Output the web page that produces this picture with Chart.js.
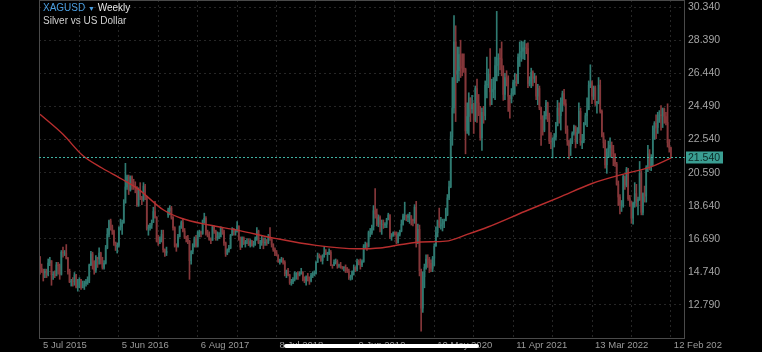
<!DOCTYPE html>
<html>
<head>
<meta charset="utf-8">
<script src="https://cdn.jsdelivr.net/npm/chart.js@4.4.1/dist/chart.umd.min.js"></script>
<style>
  html, body { margin: 0; padding: 0; background: #000; }
  #wrap { position: relative; width: 762px; height: 352px; overflow: hidden; }
  .hdr { position: absolute; left: 43px; font-family: "Liberation Sans", Arial, sans-serif; font-size: 10px; line-height: 12px; white-space: nowrap; }
  .sym { color: #4a9ee0; }
  .arr { color: #4a9ee0; font-size: 7px; }
  #homebar { position: absolute; left: 284px; top: 344px; width: 195px; height: 4px; border-radius: 2px; background: #fff; }
</style>
</head>
<body>
<div id="wrap">
  <canvas id="myChart" width="762" height="352"></canvas>
  <div class="hdr" style="top:2px;color:#e6e6e6"><span class="sym">XAGUSD</span> <span class="arr">&#9660;</span> Weekly</div>
  <div class="hdr" style="top:15px;color:#d0d0d0">Silver vs US Dollar</div>
  <div id="homebar"></div>
</div>
<script>
const ctx = document.getElementById("myChart");

// weekly candles, one per index (x axis counts candles, not calendar weeks)
const xTickLabels = [
  "5 Jul 2015", "5 Jun 2016", "6 Aug 2017", "8 Jul 2018", "9 Jun 2019",
  "10 May 2020", "11 Apr 2021", "13 Mar 2022", "12 Feb 202",
];
const candlesPerLabel = 48;
const yTickValues = [12.79, 14.74, 16.69, 18.64, 20.59, 22.54, 24.49, 26.44, 28.39, 30.34];
const lastPrice = 21.54;

const opens = [
  15.60, 14.95, 14.80, 14.68, 14.77, 14.58, 15.26, 15.40, 14.58, 14.60,
  14.52, 15.15, 15.10, 14.60, 15.90, 15.85, 15.85, 15.55, 14.75, 14.15,
  14.20, 14.15, 14.55, 13.85, 13.85, 14.30, 13.80, 13.95, 14.05, 14.15,
  14.25, 15.15, 15.80, 15.35, 14.85, 15.60, 15.50, 15.85, 15.25, 15.00,
  15.25, 16.15, 16.95, 17.75, 17.40, 17.15, 16.45, 16.25, 16.30, 17.30,
  17.40, 17.65, 18.80, 19.75, 20.35, 19.55, 20.35, 19.90, 19.80, 19.75,
  18.70, 19.55, 19.15, 19.00, 19.80, 19.20, 17.30, 17.35, 17.50, 17.65,
  18.30, 17.95, 16.55, 16.50, 16.65, 16.95, 16.05, 15.85, 18.10, 18.35,
  18.50, 17.95, 17.35, 16.30, 16.25, 16.80, 17.40, 17.65, 17.15, 16.80,
  16.70, 16.55, 15.40, 15.95, 16.30, 16.70, 16.25, 17.05, 17.05, 17.00,
  17.75, 17.90, 17.00, 16.95, 16.65, 16.60, 17.40, 17.15, 16.75, 16.80,
  16.80, 17.35, 17.10, 16.45, 15.80, 16.05, 16.15, 16.90, 17.25, 17.10,
  17.10, 17.45, 16.65, 16.20, 16.75, 16.40, 16.50, 16.50, 16.30, 16.55,
  16.30, 16.35, 16.65, 17.15, 16.45, 16.45, 16.70, 16.45, 16.50, 16.45,
  16.80, 16.65, 16.35, 16.05, 15.85, 15.70, 15.35, 15.45, 15.45, 15.30,
  14.65, 14.80, 14.55, 14.10, 14.15, 14.30, 14.65, 14.65, 14.55, 14.65,
  14.70, 14.30, 14.20, 14.45, 14.40, 14.20, 14.55, 14.60, 14.65, 15.30,
  15.70, 15.65, 15.40, 15.65, 15.85, 15.80, 15.80, 15.90, 15.15, 15.10,
  15.30, 15.35, 15.10, 15.10, 15.05, 15.00, 15.00, 14.95, 14.80, 14.40,
  14.45, 14.75, 15.00, 14.90, 15.35, 15.30, 15.15, 15.35, 16.25, 16.35,
  16.25, 17.05, 17.05, 17.40, 18.35, 18.15, 17.55, 17.95, 17.55, 17.55,
  17.50, 17.55, 17.85, 18.10, 16.80, 16.85, 17.05, 16.95, 16.45, 16.95,
  17.15, 17.55, 18.05, 18.05, 17.95, 18.05, 18.05, 17.80, 17.75, 18.55,
  16.45, 17.25, 14.80, 12.60, 14.45, 15.00, 15.50, 15.45, 15.25, 14.95,
  15.55, 16.25, 17.05, 17.75, 17.45, 17.50, 17.60, 17.75, 18.10, 19.10,
  19.75, 22.70, 24.40, 28.30, 26.40, 26.60, 27.55, 26.85, 26.75, 26.70,
  23.05, 23.90, 25.00, 24.35, 24.60, 23.70, 25.55, 24.70, 24.20, 22.65,
  24.15, 23.95, 25.75, 25.80, 26.40, 25.35, 25.50, 25.50, 26.90, 26.95,
  27.35, 27.30, 26.70, 25.20, 26.20, 26.15, 25.10, 24.95, 25.25, 25.90,
  25.95, 25.85, 27.40, 27.70, 27.75, 27.95, 27.95, 27.90, 25.85, 26.00,
  26.50, 26.15, 26.25, 25.10, 25.55, 24.40, 23.75, 23.10, 23.95, 24.70,
  23.80, 22.45, 22.40, 22.55, 22.70, 23.35, 24.40, 23.95, 24.85, 25.25,
  24.65, 23.15, 22.45, 22.15, 22.40, 22.90, 23.30, 22.40, 22.95, 24.20,
  22.35, 22.45, 23.50, 23.95, 24.30, 25.75, 25.90, 25.10, 25.60, 24.70,
  24.75, 25.75, 24.20, 22.75, 22.35, 21.05, 21.80, 22.05, 22.20, 21.90,
  21.70, 21.10, 19.90, 19.15, 18.65, 18.65, 20.35, 19.85, 20.80, 19.05,
  18.85, 17.90, 18.80, 19.35, 18.90, 19.00, 20.55, 18.25, 19.35, 19.20,
  20.90, 21.70, 20.95, 21.50, 23.20, 23.50, 23.25, 23.75, 24.00, 23.95,
  24.35, 23.90, 23.55, 22.35, 22.05,
];
const highs = [
  15.65, 15.20, 14.90, 14.90, 14.90, 15.50, 15.60, 15.40, 14.75, 14.80,
  15.30, 15.30, 15.20, 16.00, 16.20, 16.00, 16.35, 15.60, 14.90, 14.30,
  14.40, 14.70, 14.60, 14.30, 14.40, 14.30, 14.20, 14.20, 14.30, 14.45,
  15.20, 15.95, 15.90, 15.40, 15.70, 15.60, 16.15, 15.90, 15.60, 15.40,
  16.30, 17.30, 17.80, 17.85, 17.50, 17.20, 16.50, 16.45, 17.40, 17.85,
  17.80, 19.00, 21.14, 20.45, 20.45, 20.40, 20.40, 20.20, 20.05, 19.75,
  19.70, 20.00, 19.20, 20.00, 19.90, 19.20, 17.50, 17.60, 17.80, 18.55,
  18.90, 18.00, 16.90, 16.80, 17.20, 17.20, 16.10, 16.20, 18.50, 18.65,
  18.60, 18.00, 17.40, 16.40, 16.95, 17.45, 17.75, 17.90, 17.30, 16.85,
  16.90, 16.60, 16.00, 16.40, 16.80, 16.90, 17.15, 17.20, 17.15, 17.80,
  18.20, 18.00, 17.20, 17.10, 16.75, 17.45, 17.45, 17.20, 17.10, 17.05,
  17.40, 17.35, 17.20, 16.50, 16.10, 16.30, 16.95, 17.35, 17.30, 17.25,
  17.70, 17.45, 16.80, 16.80, 16.80, 16.60, 16.70, 16.70, 16.65, 16.60,
  16.55, 16.80, 17.35, 17.20, 16.60, 16.85, 16.75, 16.75, 16.65, 16.95,
  17.35, 16.70, 16.40, 16.15, 16.00, 15.75, 15.50, 15.60, 15.55, 15.40,
  14.85, 14.95, 14.60, 14.30, 14.40, 14.75, 14.70, 14.75, 14.75, 14.95,
  14.75, 14.45, 14.50, 14.65, 14.45, 14.65, 14.75, 14.80, 15.35, 15.85,
  15.80, 15.70, 15.75, 16.20, 16.05, 15.90, 16.10, 16.00, 15.15, 15.45,
  15.50, 15.45, 15.20, 15.30, 15.05, 15.05, 15.15, 15.00, 14.90, 14.55,
  14.80, 15.15, 15.05, 15.50, 15.45, 15.50, 15.45, 16.35, 16.50, 16.45,
  17.15, 17.30, 17.50, 18.65, 19.65, 18.45, 18.10, 18.05, 17.80, 17.80,
  17.65, 17.90, 18.20, 18.10, 17.00, 17.10, 17.10, 17.10, 17.05, 17.20,
  17.80, 18.15, 18.85, 18.10, 18.15, 18.25, 18.05, 17.85, 18.70, 18.90,
  17.55, 17.50, 14.90, 14.75, 15.20, 15.75, 15.75, 15.60, 15.45, 15.65,
  16.40, 17.40, 17.80, 18.50, 17.95, 17.85, 17.85, 18.50, 19.30, 20.10,
  23.00, 26.20, 29.85, 29.25, 28.00, 28.00, 28.40, 27.60, 27.60, 26.75,
  24.70, 25.30, 25.00, 25.15, 24.70, 25.70, 26.10, 25.20, 24.50, 24.40,
  24.50, 26.00, 27.40, 26.70, 27.90, 26.10, 26.20, 27.40, 30.10, 27.60,
  27.90, 28.30, 26.90, 26.45, 26.60, 26.30, 25.15, 25.55, 26.05, 26.45,
  26.40, 27.60, 28.30, 28.35, 28.30, 28.40, 28.20, 28.25, 26.25, 26.75,
  26.60, 26.45, 26.30, 25.80, 25.70, 24.45, 23.95, 24.20, 24.85, 24.75,
  24.10, 22.95, 22.65, 22.90, 23.55, 24.85, 24.70, 25.00, 25.40, 25.50,
  24.90, 23.35, 22.50, 22.60, 23.00, 23.40, 23.35, 23.25, 24.70, 24.40,
  22.85, 23.55, 24.10, 25.00, 26.00, 26.95, 26.00, 25.70, 25.70, 24.80,
  26.20, 26.05, 24.30, 22.95, 22.50, 22.00, 22.45, 22.65, 22.40, 22.20,
  21.70, 21.20, 20.10, 19.30, 18.95, 20.45, 20.40, 20.90, 20.85, 19.25,
  18.90, 18.85, 20.00, 19.90, 19.15, 21.25, 20.70, 19.40, 19.80, 21.00,
  22.20, 21.95, 21.65, 23.35, 23.60, 24.00, 24.15, 24.25, 24.55, 24.40,
  24.40, 24.15, 24.65, 22.55, 22.10,
];
const lows = [
  14.60, 14.70, 14.20, 14.40, 14.40, 14.50, 15.10, 13.95, 14.30, 14.40,
  14.50, 14.60, 14.30, 14.55, 15.60, 15.70, 15.50, 14.60, 14.10, 13.90,
  13.90, 13.95, 13.80, 13.60, 13.80, 13.70, 13.80, 13.70, 13.90, 14.00,
  14.10, 15.10, 14.90, 14.60, 14.70, 15.00, 15.20, 15.20, 14.90, 14.90,
  15.20, 16.10, 16.80, 17.20, 16.95, 16.30, 16.00, 15.85, 16.20, 17.20,
  16.95, 17.60, 18.80, 19.60, 19.30, 19.50, 19.60, 19.60, 19.40, 18.60,
  18.60, 19.00, 18.70, 18.90, 19.00, 17.20, 16.90, 17.20, 17.30, 17.65,
  17.90, 16.50, 16.30, 16.40, 16.50, 15.90, 15.65, 15.70, 17.95, 18.10,
  17.85, 17.20, 16.20, 15.95, 16.20, 16.80, 17.30, 17.10, 16.70, 16.50,
  16.40, 14.30, 15.20, 15.80, 16.20, 16.20, 16.20, 16.80, 16.80, 16.95,
  17.60, 16.90, 16.80, 16.60, 16.40, 16.60, 17.00, 16.60, 16.60, 16.70,
  16.80, 16.95, 16.30, 15.65, 15.75, 15.90, 16.10, 16.90, 16.90, 16.90,
  17.10, 16.60, 16.05, 16.20, 16.35, 16.20, 16.40, 16.30, 16.20, 16.25,
  16.20, 16.30, 16.60, 16.40, 16.10, 16.30, 16.10, 16.30, 16.30, 16.40,
  16.60, 16.20, 15.95, 15.70, 15.70, 15.30, 15.20, 15.30, 15.20, 14.50,
  14.40, 14.50, 14.00, 13.95, 14.05, 14.20, 14.30, 14.30, 14.50, 14.60,
  14.20, 14.10, 13.95, 14.20, 14.00, 14.15, 14.40, 14.50, 14.60, 15.30,
  15.55, 15.35, 15.20, 15.60, 15.75, 15.40, 15.75, 15.10, 14.95, 15.10,
  15.20, 14.95, 15.00, 14.95, 14.90, 14.80, 14.70, 14.70, 14.30, 14.25,
  14.30, 14.55, 14.75, 14.80, 15.15, 14.90, 15.05, 15.30, 16.10, 16.00,
  16.20, 16.80, 16.95, 17.20, 17.90, 17.45, 17.40, 17.10, 16.95, 17.30,
  17.35, 17.35, 17.80, 16.70, 16.60, 16.85, 16.90, 16.40, 16.45, 16.85,
  17.10, 17.50, 17.80, 17.75, 17.70, 17.60, 17.50, 17.45, 17.60, 16.20,
  16.40, 14.50, 11.25, 12.35, 13.80, 14.90, 15.00, 14.70, 14.75, 14.75,
  15.10, 16.25, 16.80, 17.35, 17.25, 17.15, 17.35, 17.75, 18.05, 19.00,
  19.70, 22.20, 24.10, 23.60, 25.90, 26.00, 26.20, 26.30, 26.50, 21.70,
  22.90, 22.80, 23.60, 24.10, 22.90, 23.60, 23.55, 23.95, 22.50, 21.90,
  23.50, 23.70, 25.00, 25.60, 24.55, 24.60, 25.00, 24.90, 26.00, 26.30,
  26.65, 26.30, 24.85, 24.90, 25.70, 24.20, 23.80, 24.70, 25.15, 25.20,
  25.70, 25.85, 26.85, 27.15, 27.30, 27.25, 27.60, 25.60, 25.70, 25.60,
  25.70, 25.90, 24.90, 24.60, 24.30, 22.20, 22.80, 23.00, 23.75, 23.60,
  22.30, 22.00, 21.45, 22.10, 22.50, 23.35, 23.50, 23.10, 24.20, 24.55,
  22.90, 22.20, 21.40, 21.60, 22.30, 22.80, 22.05, 22.30, 22.90, 22.20,
  22.00, 22.35, 23.40, 23.30, 24.30, 25.60, 24.65, 24.90, 24.55, 24.10,
  24.65, 24.10, 22.70, 22.05, 20.85, 20.55, 21.50, 21.50, 21.50, 21.00,
  20.95, 19.85, 18.65, 18.15, 18.30, 18.55, 19.60, 19.75, 18.95, 18.60,
  17.60, 17.55, 18.55, 18.60, 18.10, 18.95, 18.10, 18.10, 18.85, 18.85,
  20.65, 20.75, 20.70, 21.00, 22.55, 22.60, 22.90, 23.55, 23.10, 23.25,
  23.50, 23.40, 22.10, 21.80, 21.45,
];
const closes = [
  14.95, 14.80, 14.68, 14.77, 14.58, 15.26, 15.40, 14.58, 14.60, 14.52,
  15.15, 15.10, 14.60, 15.90, 15.85, 15.85, 15.55, 14.75, 14.15, 14.20,
  14.15, 14.55, 13.85, 13.85, 14.30, 13.80, 13.95, 14.05, 14.15, 14.25,
  15.15, 15.80, 15.35, 14.85, 15.60, 15.50, 15.85, 15.25, 15.00, 15.25,
  16.15, 16.95, 17.75, 17.40, 17.15, 16.45, 16.25, 16.30, 17.30, 17.40,
  17.65, 18.80, 19.75, 20.35, 19.55, 20.35, 19.90, 19.80, 19.75, 18.70,
  19.55, 19.15, 19.00, 19.80, 19.20, 17.30, 17.35, 17.50, 17.65, 18.30,
  17.95, 16.55, 16.50, 16.65, 16.95, 16.05, 15.85, 15.95, 18.35, 18.50,
  17.95, 17.35, 16.30, 16.25, 16.80, 17.40, 17.65, 17.15, 16.80, 16.70,
  16.55, 15.40, 15.95, 16.30, 16.70, 16.25, 17.05, 17.05, 17.00, 17.75,
  17.90, 17.00, 16.95, 16.65, 16.60, 17.40, 17.15, 16.75, 16.80, 16.80,
  17.35, 17.10, 16.45, 15.80, 16.05, 16.15, 16.90, 17.25, 17.10, 17.10,
  17.45, 16.65, 16.20, 16.75, 16.40, 16.50, 16.50, 16.30, 16.55, 16.30,
  16.35, 16.65, 17.15, 16.45, 16.45, 16.70, 16.45, 16.50, 16.45, 16.80,
  16.65, 16.35, 16.05, 15.85, 15.70, 15.35, 15.45, 15.45, 15.30, 14.65,
  14.80, 14.55, 14.10, 14.15, 14.30, 14.65, 14.65, 14.55, 14.65, 14.70,
  14.30, 14.20, 14.45, 14.40, 14.20, 14.55, 14.60, 14.65, 15.30, 15.70,
  15.65, 15.40, 15.65, 15.85, 15.80, 15.80, 15.90, 15.15, 15.10, 15.30,
  15.35, 15.10, 15.10, 15.05, 15.00, 15.00, 14.95, 14.80, 14.40, 14.45,
  14.75, 15.00, 14.90, 15.35, 15.30, 15.15, 15.35, 16.25, 16.35, 16.25,
  17.05, 17.05, 17.40, 18.35, 18.15, 17.55, 17.95, 17.55, 17.55, 17.50,
  17.55, 17.85, 18.10, 16.80, 16.85, 17.05, 16.95, 16.45, 16.95, 17.15,
  17.55, 18.05, 18.05, 17.95, 18.05, 18.05, 17.80, 17.75, 18.55, 16.45,
  17.25, 14.80, 12.60, 14.45, 15.00, 15.50, 15.45, 15.25, 14.95, 15.55,
  16.25, 17.05, 17.75, 17.45, 17.50, 17.60, 17.75, 18.10, 19.10, 19.75,
  22.70, 24.40, 28.30, 26.40, 26.60, 27.55, 26.85, 26.75, 26.70, 23.05,
  23.90, 25.00, 24.35, 24.60, 23.70, 25.55, 24.70, 24.20, 22.65, 24.15,
  23.95, 25.75, 25.80, 26.40, 25.35, 25.50, 25.50, 26.90, 26.95, 27.35,
  27.30, 26.70, 25.20, 26.20, 26.15, 25.10, 24.95, 25.25, 25.90, 25.95,
  25.85, 27.40, 27.70, 27.75, 27.95, 27.95, 27.90, 25.85, 26.00, 26.50,
  26.15, 26.25, 25.10, 25.55, 24.40, 23.75, 23.10, 23.95, 24.70, 23.80,
  22.45, 22.40, 22.55, 22.70, 23.35, 24.40, 23.95, 24.85, 25.25, 24.65,
  23.15, 22.45, 22.15, 22.40, 22.90, 23.30, 22.40, 22.95, 24.20, 22.35,
  22.45, 23.50, 23.95, 24.30, 25.75, 25.90, 25.10, 25.60, 24.70, 24.75,
  25.75, 24.20, 22.75, 22.35, 21.05, 21.80, 22.05, 22.20, 21.90, 21.70,
  21.10, 19.90, 19.15, 18.65, 18.65, 20.35, 19.85, 20.80, 19.05, 18.85,
  17.90, 18.80, 19.35, 18.90, 19.00, 20.55, 18.25, 19.35, 19.20, 20.90,
  21.70, 20.95, 21.50, 23.20, 23.50, 23.25, 23.75, 24.00, 23.95, 24.35,
  23.90, 23.55, 22.35, 22.05, 21.54,
];

// moving average at these candle indexes
const maIndex = [0, 14, 26, 38, 50, 60, 75, 86, 103, 120, 144, 168, 193, 207, 220, 232, 247, 260, 273, 295, 316, 336, 357, 371, 384];
const maValues = [24.03, 22.85, 21.6, 20.85, 20.2, 19.6, 18.4, 17.9, 17.5, 17.2, 16.7, 16.3, 16.1, 16.15, 16.35, 16.5, 16.55, 16.95, 17.4, 18.3, 19.13, 19.95, 20.55, 20.9, 21.45];

const upColor = "#2f7a71";
const downColor = "#85373a";

const candleColors = closes.map((c, i) => (c >= opens[i] ? upColor : downColor));
const wickData = highs.map((h, i) => ({ x: i, y: [lows[i], h] }));
const bodyData = closes.map((c, i) => ({ x: i, y: [opens[i], c] }));
const maData = maIndex.map((x, i) => ({ x: x, y: maValues[i] }));

const gridTicks = [];
for (let i = 0; i < xTickLabels.length * 2 - 1; i++) {
  gridTicks.push({ value: i * candlesPerLabel / 2 });
}

// plot frame + last price line and tag
const overlay = {
  id: "overlay",
  afterDatasetsDraw(chart) {
    const c = chart.ctx;
    const a = chart.chartArea;
    const y = Math.round(chart.scales.y.getPixelForValue(lastPrice)) + 0.5;
    c.save();
    c.strokeStyle = "#4a4a4a";
    c.lineWidth = 1;
    c.strokeRect(a.left + 0.5, a.top + 0.5, a.right - a.left - 1, a.bottom - a.top);
    c.strokeStyle = "#3fb3a4";
    c.setLineDash([2, 2]);
    c.beginPath();
    c.moveTo(a.left, y);
    c.lineTo(a.right, y);
    c.stroke();
    c.setLineDash([]);
    c.fillStyle = "#3a9e92";
    c.fillRect(a.right + 1, y - 6, 37, 12);
    c.fillStyle = "#0b2a26";
    c.font = "10.5px 'Liberation Sans', Arial, sans-serif";
    c.textBaseline = "middle";
    c.textAlign = "left";
    c.fillText(lastPrice.toFixed(3), a.right + 3, y + 0.5);
    c.restore();
  },
};

const config = {
  type: "bar",
  data: {
    datasets: [
      {
        type: "line",
        data: maData,
        borderColor: "#b82e2e",
        borderWidth: 1.4,
        pointRadius: 0,
        cubicInterpolationMode: "monotone",
        order: 0,
      },
      {
        data: bodyData,
        backgroundColor: candleColors,
        barThickness: 1,
        grouped: false,
        order: 1,
      },
      {
        data: wickData,
        backgroundColor: candleColors,
        barThickness: 1,
        grouped: false,
        order: 2,
      },
    ],
  },
  options: {
    responsive: false,
    animation: false,
    devicePixelRatio: 1,
    layout: { padding: { left: 39, top: 0, right: 0, bottom: 0 } },
    plugins: { legend: { display: false }, tooltip: { enabled: false } },
    scales: {
      x: {
        type: "linear",
        min: -0.6,
        max: 392.6,
        offset: false,
        afterBuildTicks: (s) => { s.ticks = gridTicks.slice(); },
        afterFit: (s) => { s.height = 14; s.paddingLeft = 0; s.paddingRight = 0; },
        grid: { color: "#262626", drawTicks: false, offset: false },
        border: { display: false, dash: [2, 3] },
        ticks: {
          autoSkip: false,
          maxRotation: 0,
          align: "start",
          labelOffset: 3,
          padding: 2,
          color: "#9a9a9a",
          font: { family: "'Liberation Sans', Arial, sans-serif", size: 9.5 },
          callback: (v) => (v % candlesPerLabel === 0 ? xTickLabels[v / candlesPerLabel] : ""),
        },
      },
      y: {
        position: "right",
        min: 10.84,
        max: 30.77,
        afterBuildTicks: (s) => { s.ticks = yTickValues.map((v) => ({ value: v })); },
        afterFit: (s) => { s.width = 77; s.paddingTop = 0; s.paddingBottom = 0; },
        grid: { color: "#262626", drawTicks: false },
        border: { display: false, dash: [2, 3] },
        ticks: {
          padding: 3,
          color: "#a5a5a5",
          font: { family: "'Liberation Sans', Arial, sans-serif", size: 10.5 },
          callback: (v) => v.toFixed(3),
        },
      },
    },
  },
  plugins: [overlay],
};

const myChart = new Chart(ctx, config);
</script>
</body>
</html>
